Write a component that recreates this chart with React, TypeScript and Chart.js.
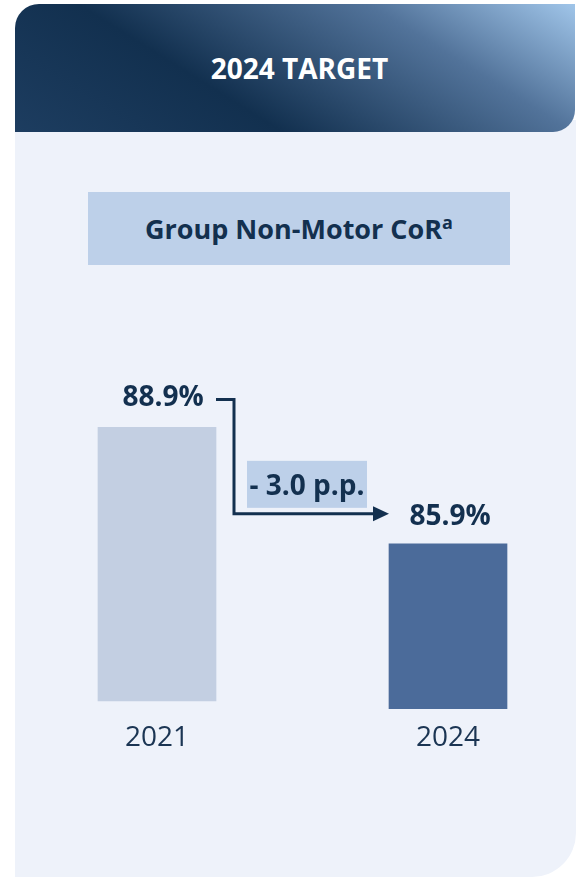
import React, { useEffect, useRef } from "react";
import { Chart, registerables } from "chart.js";

Chart.register(...registerables);

// ---- data ----
const categories = ["2021", "2024"];
const corValues = [88.9, 85.9];
const barBase = [81.85, 81.65];
const valueLabels = ["88.9%", "85.9%"];
const deltaLabel = "- 3.0 p.p.";
const headerText = "2024 TARGET";
const titleText = "Group Non-Motor CoR";
const titleSup = "a";
const barColors = ["#c3cfe2", "#4b6b9a"];

const NAVY = "#13304f";
const FONT = '"Open Sans", "Noto Sans", sans-serif';

const annotationPlugin = {
  id: "annotations",
  afterDatasetsDraw(chart: any) {
    const ctx = chart.ctx;
    const meta = chart.getDatasetMeta(0);
    const b0 = meta.data[0];
    const b1 = meta.data[1];
    if (!b0 || !b1) return;
    ctx.save();
    // value labels
    ctx.font = `bold 28px ${FONT}`;
    ctx.fillStyle = NAVY;
    ctx.textAlign = "center";
    ctx.textBaseline = "alphabetic";
    ctx.fillText(valueLabels[0], b0.x + 6, b0.y - 21.5);
    ctx.fillText(valueLabels[1], b1.x + 2, b1.y - 18.5);

    // arrow
    const startX = b0.x + b0.width / 2;
    const startY = b0.y - 28;
    const vx = startX + 18;
    const endY = b1.y - 30;
    const tipX = b1.x - b1.width / 2;
    ctx.strokeStyle = NAVY;
    ctx.lineWidth = 3;
    ctx.lineJoin = "miter";
    ctx.beginPath();
    ctx.moveTo(startX, startY);
    ctx.lineTo(vx, startY);
    ctx.lineTo(vx, endY);
    ctx.lineTo(tipX - 14, endY);
    ctx.stroke();
    ctx.fillStyle = NAVY;
    ctx.beginPath();
    ctx.moveTo(tipX, endY);
    ctx.lineTo(tipX - 16, endY - 7.5);
    ctx.lineTo(tipX - 16, endY + 7.5);
    ctx.closePath();
    ctx.fill();

    // delta box
    const boxL = vx + 13;
    const boxR = vx + 133;
    const boxT = endY - 53;
    const boxB = endY - 6;
    ctx.fillStyle = "#bdd0e9";
    ctx.fillRect(boxL, boxT, boxR - boxL, boxB - boxT);
    ctx.fillStyle = NAVY;
    ctx.font = `bold 28px ${FONT}`;
    ctx.textAlign = "center";
    ctx.fillText(deltaLabel, (boxL + boxR) / 2, boxB - 13);
    ctx.restore();
  },
};

export default function App() {
  const canvasRef = useRef<HTMLCanvasElement | null>(null);

  useEffect(() => {
    const canvas = canvasRef.current;
    if (!canvas) return;
    const chart = new Chart(canvas, {
      type: "bar",
      data: {
        labels: categories,
        datasets: [
          {
            data: categories.map((_, i) => [barBase[i], corValues[i]]) as any,
            backgroundColor: barColors,
            borderWidth: 0,
            barThickness: 118,
            clip: false as any,
          },
        ],
      },
      options: {
        animation: false,
        responsive: false,
        devicePixelRatio: 1,
        layout: { padding: { top: 307.1, bottom: 116.8, left: 157, right: 129 } },
        plugins: {
          legend: { display: false },
          tooltip: { enabled: false },
        },
        scales: {
          x: {
            offset: false,
            grid: { display: false, drawTicks: false },
            border: { display: false },
            ticks: {
              color: "#1b3553",
              font: { family: FONT, size: 28 },
              padding: 7,
              maxRotation: 0,
              autoSkip: false,
            },
          },
          y: {
            display: false,
            min: 81.5,
            max: 92,
          },
        },
      },
      plugins: [annotationPlugin],
    });
    (document as any).fonts?.ready?.then(() => chart.update());
    return () => chart.destroy();
  }, []);

  return (
    <div style={{ position: "absolute", left: 0, top: 0, width: 577, height: 879, background: "#ffffff", overflow: "hidden" }}>
      {/* panel */}
      <div
        style={{
          position: "absolute",
          left: 15,
          top: 120,
          width: 561,
          height: 757,
          background: "#eef2fa",
          borderBottomRightRadius: 44,
        }}
      />
      {/* header */}
      <div
        style={{
          position: "absolute",
          left: 15,
          top: 4,
          width: 560,
          height: 128,
          borderTopLeftRadius: 24,
          borderBottomRightRadius: 22,
          background: "linear-gradient(32deg, #1d3d60 0%, #12304f 35%, #52739a 73%, #a0c5e9 100%)",
          color: "#ffffff",
          font: `bold 28px ${FONT}`,
          display: "flex",
          alignItems: "center",
          justifyContent: "center",
          paddingLeft: 9,
          boxSizing: "border-box",
        }}
      >
        {headerText}
      </div>
      {/* title box */}
      <div
        style={{
          position: "absolute",
          left: 88,
          top: 192,
          width: 422,
          height: 73,
          background: "#bdd0e9",
          color: NAVY,
          font: `bold 27px ${FONT}`,
          lineHeight: "73px",
          textAlign: "center",
        }}
      >
        {titleText}
        <span style={{ fontSize: 18, position: "relative", top: -10 }}>{titleSup}</span>
      </div>
      <canvas
        ref={canvasRef}
        width={577}
        height={879}
        style={{ position: "absolute", left: 0, top: 0, width: 577, height: 879 }}
      />
    </div>
  );
}
